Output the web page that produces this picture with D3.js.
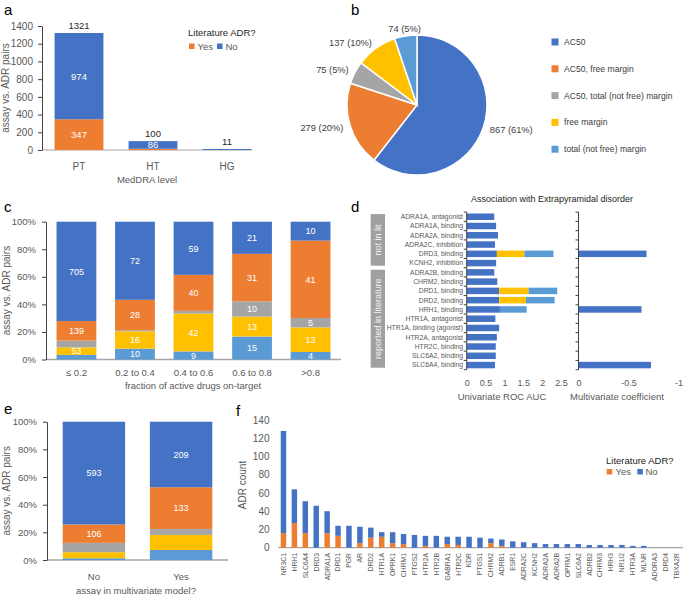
<!DOCTYPE html>
<html><head><meta charset="utf-8">
<script src="https://cdn.jsdelivr.net/npm/d3@7"></script>
<style>
body{margin:0;background:#fff}
svg{display:block}
text{font-family:"Liberation Sans",Arial,Helvetica,sans-serif}
</style>
</head><body>
<svg id="chart" width="683" height="595"></svg>
<script>
// ---------------- DATA ----------------
// panel a
const aLevels = ["PT", "HT", "HG"];
const aYes = [347, 14, 0];
const aNo = [974, 86, 11];
const aTicks = [0, 200, 400, 600, 800, 1000, 1200, 1400];

// panel b
const bCategories = ["AC50", "AC50, free margin", "AC50, total (not free) margin", "free margin", "total (not free) margin"];
const bValues = [867, 279, 75, 137, 74];
const bPct = ["61%", "20%", "5%", "10%", "5%"];

// panel c (stack bottom -> top)
const cBins = ["\u2264 0.2", "0.2 to 0.4", "0.4 to 0.6", "0.6 to 0.8", ">0.8"];
const cTotalMargin = [33, 10, 9, 15, 4];
const cFreeMargin = [53, 16, 42, 13, 13];
const cAC50Total = [48, 1, 3, 10, 5];
const cAC50Free = [139, 28, 40, 31, 41];
const cAC50 = [705, 72, 59, 21, 10];
const pctTicks = [0, 0.2, 0.4, 0.6, 0.8, 1];

// panel d
const dRows = ["ADRA1A, antagonist", "ADRA1A, binding", "ADRA2A, binding", "ADRA2C, inhibition", "DRD3, binding", "KCNH2, inhibition",
  "ADRA2B, binding", "CHRM2, binding", "DRD1, binding", "DRD2, binding", "HRH1, binding", "HTR1A, antagonist",
  "HTR1A, binding (agonist)", "HTR2A, antagonist", "HTR2C, binding", "SLC6A2, binding", "SLC6A4, binding"];
const dAucAC50 = [0.73, 0.78, 0.83, 0.75, 0.80, 0.78, 0.73, 0.81, 0.86, 0.86, 0.88, 0.76, 0.86, 0.80, 0.77, 0.77, 0.75];
const dAucFree = [0, 0, 0, 0, 0.73, 0, 0, 0, 0.78, 0.71, 0, 0, 0, 0, 0, 0, 0];
const dAucTotal = [0, 0, 0, 0, 0.77, 0, 0, 0, 0.76, 0.76, 0.71, 0, 0, 0, 0, 0, 0];
const dCoef = [0, 0, 0, 0, -0.68, 0, 0, 0, 0, 0, -0.63, 0, 0, 0, 0, 0, -0.725];
const dGroups = ["not in lit", "reported in literature"];
const dGroupSizes = [6, 11];
const dAucTicks = [0, 0.5, 1, 1.5, 2, 2.5];
const dCoefTicks = [0, -0.5, -1];

// panel e
const eGroups = ["No", "Yes"];
const eTotalMargin = [10, 32];
const eFreeMargin = [35, 48];
const eAC50Total = [54, 19];
const eAC50Free = [106, 133];
const eAC50 = [593, 209];

// panel f
const fTargets = ["NR3C1", "HRH1", "SLC6A4", "DRD3", "ADRA1A", "DRD1", "PGR", "AR", "DRD2", "HTR1A", "OPRK1", "CHRM1",
  "PTGS2", "HTR2A", "HTR2B", "GABRA1", "HTR2C", "KDR", "PTGS1", "CHRM2", "ADRB1", "ESR1", "ADRA2C", "KCNH2",
  "ADRA2A", "ADRA2B", "OPRM1", "SLC6A2", "ADRB2", "CHRM3", "HRH3", "NR1I2", "HTR3A", "MLNR", "ADORA3", "DRD4", "TBXA2R"];
const fYes = [16, 27, 16, 0, 16, 13, 0, 5, 11, 12, 5, 4, 0, 2, 0, 4, 3, 0, 0, 5, 2, 0, 0, 0, 0, 0, 0, 0, 0, 0, 0, 0, 0, 0, 0, 0, 0];
const fNo = [112, 37, 35, 46, 24, 11, 24, 18, 11, 5, 12, 11, 14, 11, 13, 8, 9, 12, 11, 5, 7, 7, 6, 5, 4, 4, 4, 4, 3, 3, 3, 3, 2, 2, 0, 0, 0];
const fTicks = [0, 20, 40, 60, 80, 100, 120, 140];

// ---------------- STYLE ----------------
const C = { ac50: "#4472C4", ac50free: "#ED7D31", ac50total: "#A5A5A5", free: "#FFC000", total: "#5B9BD5" };
const YES = "#ED7D31", NO = "#4472C4";
const TXT = "#595959", AX = "#404040", BASE = "#A6A6A6";
const stackKeys = ["total", "free", "ac50total", "ac50free", "ac50"];

const svg = d3.select("#chart");

function letter(x, y, t) {
  svg.append("text").attr("x", x).attr("y", y).attr("font-size", 15).attr("fill", "#000").text(t);
}
function styleAxis(g, fs) {
  g.select(".domain").attr("stroke", AX);
  g.selectAll(".tick line").attr("stroke", AX);
  g.selectAll(".tick text").attr("fill", TXT).attr("font-size", fs).attr("font-family", '"Liberation Sans",Arial,sans-serif');
}
function yTitle(x, y, t, fs) {
  svg.append("text").attr("transform", `translate(${x},${y}) rotate(-90)`).attr("text-anchor", "middle")
    .attr("fill", TXT).attr("font-size", fs).text(t);
}
function txt(x, y, t, fs, fill, anchor) {
  return svg.append("text").attr("x", x).attr("y", y).attr("font-size", fs).attr("fill", fill || TXT)
    .attr("text-anchor", anchor || "middle").text(t);
}

// ---------------- PANEL A ----------------
letter(4, 15, "a");
{
  const x = d3.scaleBand(aLevels, [42, 264]).paddingInner(0.34).paddingOuter(0.17);
  const y = d3.scaleLinear([0, 1400], [150, 26]);
  const g = svg.append("g");
  g.append("line").attr("x1", 42).attr("x2", 252).attr("y1", y(0)).attr("y2", y(0)).attr("stroke", BASE);
  const rows = aLevels.map((l, i) => ({ l, yes: aYes[i], no: aNo[i] }));
  g.selectAll(".yes").data(rows).join("rect").attr("x", d => x(d.l)).attr("width", x.bandwidth())
    .attr("y", d => y(d.yes)).attr("height", d => y(0) - y(d.yes)).attr("fill", YES);
  g.selectAll(".no").data(rows).join("rect").attr("x", d => x(d.l)).attr("width", x.bandwidth())
    .attr("y", d => y(d.yes + d.no)).attr("height", d => y(d.yes) - y(d.yes + d.no)).attr("fill", NO);
  rows.forEach(d => {
    const cx = x(d.l) + x.bandwidth() / 2;
    if (d.yes >= 50) txt(cx, (y(0) + y(d.yes)) / 2 + 3.5, d.yes, 9.5, "#fff");
    if (d.no >= 50) txt(cx, (y(d.yes) + y(d.yes + d.no)) / 2 + 3.5, d.no, 9.5, "#fff");
    txt(cx, y(d.yes + d.no) - 4, d.yes + d.no, 9.5, "#262626");
  });
  const ax = svg.append("g").attr("transform", "translate(42,0)")
    .call(d3.axisLeft(y).tickValues(aTicks).tickFormat(d => String(d)).tickSize(4).tickSizeOuter(0).tickPadding(5));
  styleAxis(ax, 10);
  const xa = svg.append("g").attr("transform", `translate(0,${y(0)})`)
    .call(d3.axisBottom(x).tickSize(0).tickPadding(13));
  xa.select(".domain").remove();
  styleAxis(xa, 10);
  txt(147, 182.5, "MedDRA level", 9.5);
  yTitle(8.5, 88, "assay vs. ADR pairs", 10);
  // legend
  txt(188, 36, "Literature ADR?", 9.5, "#262626", "start");
  svg.append("rect").attr("x", 189).attr("y", 43.5).attr("width", 5.5).attr("height", 5.5).attr("fill", YES);
  txt(197.5, 49.5, "Yes", 9.5, TXT, "start");
  svg.append("rect").attr("x", 217).attr("y", 43.5).attr("width", 5.5).attr("height", 5.5).attr("fill", NO);
  txt(225.5, 49.5, "No", 9.5, TXT, "start");
}

// ---------------- PANEL B ----------------
letter(351, 15, "b");
{
  const cx = 417, cy = 105, r = 70;
  const keys = ["ac50", "ac50free", "ac50total", "free", "total"];
  const data = bCategories.map((c, i) => ({ c, v: bValues[i], p: bPct[i], k: keys[i] }));
  const pie = d3.pie().sort(null).value(d => d.v);
  const arc = d3.arc().innerRadius(0).outerRadius(r);
  const g = svg.append("g").attr("transform", `translate(${cx},${cy})`);
  const arcs = pie(data);
  g.selectAll("path").data(arcs).join("path").attr("d", arc).attr("fill", d => C[d.data.k])
    .attr("stroke", "#fff").attr("stroke-width", 1.5);
  arcs.forEach(a => {
    const m = (a.startAngle + a.endAngle) / 2, R = 77;
    const s = Math.sin(m);
    g.append("text").attr("x", s * R).attr("y", -Math.cos(m) * R).attr("dy", "0.35em")
      .attr("text-anchor", s > 0.3 ? "start" : s < -0.3 ? "end" : "middle")
      .attr("font-size", 9.3).attr("fill", "#404040").text(`${a.data.v} (${a.data.p})`);
  });
  data.forEach((d, i) => {
    const yy = 42 + i * 26.8;
    svg.append("rect").attr("x", 551.5).attr("y", yy - 3.5).attr("width", 7).attr("height", 7).attr("fill", C[d.k]);
    txt(564, yy + 3, d.c, 8.6, "#404040", "start");
  });
}

// ---------------- stacked percent helper ----------------
function pctStack(cats, series, range, yRange, pi, po, labelTest) {
  const x = d3.scaleBand(cats, range).paddingInner(pi).paddingOuter(po);
  const y = d3.scaleLinear([0, 1], yRange);
  const table = cats.map((c, i) => {
    const o = { cat: c };
    stackKeys.forEach((k, j) => o[k] = series[j][i]);
    return o;
  });
  const stacked = d3.stack().keys(stackKeys).offset(d3.stackOffsetExpand)(table);
  svg.append("line").attr("x1", range[0]).attr("x2", range[1]).attr("y1", y(0)).attr("y2", y(0))
    .attr("stroke", BASE).attr("stroke-width", 1.5);
  const g = svg.append("g");
  stacked.forEach(s => {
    g.selectAll(null).data(s).join("rect").attr("x", d => x(d.data.cat)).attr("width", x.bandwidth())
      .attr("y", d => y(d[1])).attr("height", d => y(d[0]) - y(d[1])).attr("fill", C[s.key]);
    s.forEach(d => {
      const v = d.data[s.key];
      if (labelTest(s.key, d[1] - d[0])) {
        txt(x(d.data.cat) + x.bandwidth() / 2, y((d[0] + d[1]) / 2) + 3.3, v, 9, "#fff");
      }
    });
  });
  const ax = svg.append("g").attr("transform", `translate(${range[0]},0)`)
    .call(d3.axisLeft(y).tickValues(pctTicks).tickFormat(d3.format(".0%")).tickSize(4).tickSizeOuter(0).tickPadding(6));
  styleAxis(ax, 9.5);
  return { x, y };
}

// ---------------- PANEL C ----------------
letter(4, 212, "c");
{
  const { x, y } = pctStack(cBins, [cTotalMargin, cFreeMargin, cAC50Total, cAC50Free, cAC50],
    [46, 341], [359.5, 221.7], 0.32, 0.18, (k, f) => f >= 0.052);
  const xa = svg.append("g").attr("transform", `translate(0,${y(0)})`).call(d3.axisBottom(x).tickSize(0).tickPadding(10));
  xa.select(".domain").remove();
  styleAxis(xa, 9.5);
  txt(193, 389, "fraction of active drugs on-target", 9.5);
  yTitle(9.5, 290.6, "assay vs. ADR pairs", 10);
}

// ---------------- PANEL E ----------------
letter(4, 414, "e");
{
  const { x, y } = pctStack(eGroups, [eTotalMargin, eFreeMargin, eAC50Total, eAC50Free, eAC50],
    [47, 228], [560, 421.7], 0.284, 0.18, (k, f) => k === "ac50" || k === "ac50free");
  const xa = svg.append("g").attr("transform", `translate(0,${y(0)})`).call(d3.axisBottom(x).tickSize(0).tickPadding(13));
  xa.select(".domain").remove();
  styleAxis(xa, 9.5);
  txt(136, 593.5, "assay in multivariate model?", 9.5);
  yTitle(9.5, 490.8, "assay vs. ADR pairs", 10);
}

// ---------------- PANEL D ----------------
letter(351, 212, "d");
{
  const yD = d3.scaleBand(dRows, [212.1, 369.7]).paddingInner(0.3).paddingOuter(0.15);
  const xL = d3.scaleLinear([0, 2.5], [466.7, 561]);
  const xR = d3.scaleLinear([0, -1], [578.5, 678.5]);
  const step = yD.step();
  const top = yD.range()[0];
  txt(552, 201.5, "Association with Extrapyramidal disorder", 9, "#262626");

  const rows = dRows.map((r, i) => ({ r, a: dAucAC50[i], f: dAucFree[i], t: dAucTotal[i], c: dCoef[i] }));
  const g = svg.append("g");
  const h = yD.bandwidth();
  g.selectAll(".a").data(rows).join("rect").attr("y", d => yD(d.r)).attr("height", h)
    .attr("x", xL(0)).attr("width", d => xL(d.a) - xL(0)).attr("fill", C.ac50);
  g.selectAll(".f").data(rows.filter(d => d.f > 0)).join("rect").attr("y", d => yD(d.r)).attr("height", h)
    .attr("x", d => xL(d.a)).attr("width", d => xL(d.a + d.f) - xL(d.a)).attr("fill", C.free);
  g.selectAll(".t").data(rows.filter(d => d.t > 0)).join("rect").attr("y", d => yD(d.r)).attr("height", h)
    .attr("x", d => xL(d.a + d.f)).attr("width", d => xL(d.a + d.f + d.t) - xL(d.a + d.f)).attr("fill", C.total);
  g.selectAll(".c").data(rows.filter(d => d.c !== 0)).join("rect").attr("y", d => yD(d.r)).attr("height", h)
    .attr("x", xR(0)).attr("width", d => xR(d.c) - xR(0)).attr("fill", C.ac50);

  // y axes with ticks at row boundaries
  const bounds = d3.range(dRows.length + 1).map(i => top + i * step);
  [xL(0), xR(0)].forEach(ax0 => {
    g.append("line").attr("x1", ax0).attr("x2", ax0).attr("y1", bounds[0]).attr("y2", bounds[bounds.length - 1]).attr("stroke", AX);
    g.selectAll(null).data(bounds).join("line").attr("x1", ax0 - 3).attr("x2", ax0)
      .attr("y1", d => d).attr("y2", d => d).attr("stroke", AX);
  });
  rows.forEach(d => txt(463, yD(d.r) + h / 2 + 2.4, d.r, 6.8, TXT, "end"));

  // x tick labels
  const xa = svg.append("g").attr("transform", "translate(0,377)")
    .call(d3.axisBottom(xL).tickValues(dAucTicks).tickFormat(d => String(d)).tickSize(0).tickPadding(3));
  xa.select(".domain").remove(); styleAxis(xa, 9);
  const xb = svg.append("g").attr("transform", "translate(0,377)")
    .call(d3.axisBottom(xR).tickValues(dCoefTicks).tickFormat(d => String(d)).tickSize(0).tickPadding(3));
  xb.select(".domain").remove(); styleAxis(xb, 9);
  txt(502, 399.5, "Univariate ROC AUC", 9.5);
  txt(617, 399.5, "Multivariate coefficient", 9.5);

  // group boxes
  let start = 0;
  dGroups.forEach((gname, i) => {
    const y0 = top + start * step + 2, y1 = top + (start + dGroupSizes[i]) * step - 2;
    svg.append("rect").attr("x", 370.7).attr("y", y0).attr("width", 14.3).attr("height", y1 - y0).attr("fill", "#A0A0A0");
    svg.append("text").attr("transform", `translate(${377.85},${(y0 + y1) / 2}) rotate(-90)`).attr("dy", "0.35em")
      .attr("text-anchor", "middle").attr("font-size", 9).attr("fill", "#F2F2F2").text(gname);
    start += dGroupSizes[i];
  });
}

// ---------------- PANEL F ----------------
letter(236, 416, "f");
{
  const x = d3.scaleBand(fTargets, [278, 682]).paddingInner(0.5).paddingOuter(0.25);
  const y = d3.scaleLinear([0, 140], [547.7, 420]);
  const rows = fTargets.map((t, i) => ({ t, yes: fYes[i], no: fNo[i] }));
  const g = svg.append("g");
  g.append("line").attr("x1", 278).attr("x2", 683).attr("y1", y(0)).attr("y2", y(0)).attr("stroke", BASE).attr("stroke-width", 1.2);
  g.selectAll(".y").data(rows).join("rect").attr("x", d => x(d.t)).attr("width", x.bandwidth())
    .attr("y", d => y(d.yes)).attr("height", d => y(0) - y(d.yes)).attr("fill", YES);
  g.selectAll(".n").data(rows).join("rect").attr("x", d => x(d.t)).attr("width", x.bandwidth())
    .attr("y", d => y(d.yes + d.no)).attr("height", d => y(d.yes) - y(d.yes + d.no)).attr("fill", NO);
  const ay = svg.append("g").attr("transform", "translate(273,0)")
    .call(d3.axisLeft(y).tickValues(fTicks).tickSize(0).tickPadding(3.5));
  ay.select(".domain").remove(); styleAxis(ay, 10);
  rows.forEach(d => {
    svg.append("text").attr("transform", `translate(${x(d.t) + x.bandwidth() / 2},553) rotate(-90)`)
      .attr("dy", "0.35em").attr("text-anchor", "end").attr("font-size", 6.8).attr("fill", TXT).text(d.t);
  });
  yTitle(246, 485, "ADR count", 10);
  txt(606, 463.5, "Literature ADR?", 9.5, "#262626", "start");
  svg.append("rect").attr("x", 606.7).attr("y", 469).attr("width", 5.5).attr("height", 5.5).attr("fill", YES);
  txt(615.5, 475, "Yes", 9.5, TXT, "start");
  svg.append("rect").attr("x", 637.3).attr("y", 469).attr("width", 5.5).attr("height", 5.5).attr("fill", NO);
  txt(645.5, 475, "No", 9.5, TXT, "start");
}
</script>
</body></html>
